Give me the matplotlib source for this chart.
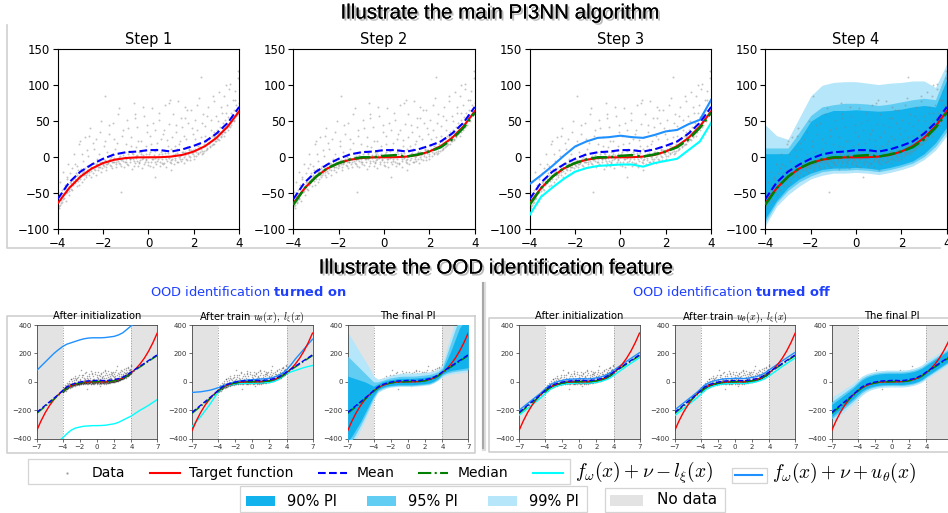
import numpy as np
import matplotlib
matplotlib.use('Agg')
import matplotlib.pyplot as plt
import matplotlib.patheffects as pe
from matplotlib.patches import Rectangle

# ---------------- data ----------------
# scatter "Data" (shared by all panels)
DATA_PTS = [
    (-3.95, -68), (-3.9, -52), (-3.85, -60), (-3.8, -45), (-3.75, -58), (-3.7, -38), (-3.65, -50), (-3.6, -30),
    (-3.55, -44), (-3.5, -40), (-3.45, -22), (-3.4, -36), (-3.35, -45), (-3.3, -28), (-3.25, -10), (-3.2, -32),
    (-3.15, -25), (-3.1, -18), (-3.05, -38), (-3.0, -27), (-2.95, 5), (-2.9, -20), (-2.85, -30), (-2.8, -15),
    (-2.75, -24), (-2.7, 10), (-2.65, -18), (-2.6, -12), (-2.55, -28), (-2.5, -15), (-2.45, 20), (-2.4, -8),
    (-2.35, -18), (-2.3, -12), (-2.25, -2), (-2.2, -14), (-2.15, 35), (-2.1, -20), (-2.05, -6), (-2.0, -10),
    (-1.95, 15), (-1.9, -4), (-1.85, -14), (-1.8, -8), (-1.75, 45), (-1.7, -2), (-1.65, -12), (-1.6, 5),
    (-1.55, -6), (-1.5, 25), (-1.45, -10), (-1.4, -3), (-1.35, 60), (-1.3, -8), (-1.25, 2), (-1.2, -12),
    (-1.15, 30), (-1.1, -5), (-1.05, 8), (-1.0, -2), (-0.95, -10), (-0.9, 40), (-0.85, 0), (-0.8, -6),
    (-0.75, 15), (-0.7, -3), (-0.65, -12), (-0.6, 55), (-0.55, 2), (-0.5, -5), (-0.45, 22), (-0.4, -8),
    (-0.35, 5), (-0.3, -2), (-0.25, 70), (-0.2, -10), (-0.15, 10), (-0.1, -4), (-0.05, 35), (0.0, 0),
    (0.05, -12), (0.1, 18), (0.15, -3), (0.2, 48), (0.25, 3), (0.3, -7), (0.35, 12), (0.4, -2),
    (0.45, 62), (0.5, -6), (0.55, 25), (0.6, 4), (0.65, -10), (0.7, 38), (0.75, 1), (0.8, -5),
    (0.85, 15), (0.9, -1), (0.95, 80), (1.0, -8), (1.05, 28), (1.1, 3), (1.15, -4), (1.2, 45),
    (1.25, 6), (1.3, -6), (1.35, 18), (1.4, 2), (1.45, 55), (1.5, -3), (1.55, 30), (1.6, 8),
    (1.65, -2), (1.7, 65), (1.75, 5), (1.8, 12), (1.85, -4), (1.9, 40), (1.95, 10), (2.0, 2),
    (2.05, 25), (2.1, 8), (2.15, 72), (2.2, 4), (2.25, 18), (2.3, 12), (2.35, 48), (2.4, 6),
    (2.45, 15), (2.5, 30), (2.55, 10), (2.6, 58), (2.65, 20), (2.7, 14), (2.75, 38), (2.8, 22),
    (2.85, 85), (2.9, 18), (2.95, 30), (3.0, 26), (3.05, 50), (3.1, 24), (3.15, 35), (3.2, 70),
    (3.25, 32), (3.3, 40), (3.35, 30), (3.4, 62), (3.45, 42), (3.5, 38), (3.55, 95), (3.6, 48),
    (3.65, 45), (3.7, 58), (3.75, 52), (3.8, 80), (3.85, 58), (3.9, 62), (3.95, 110), (4.0, 68),
    (-3.98, -62), (-3.92, -66), (-3.87, -55), (-3.82, -62), (-3.72, -50), (-3.62, -46), (-3.52, -47),
    (-3.42, -38), (-3.32, -33), (-3.22, -30), (-3.12, -28), (-3.02, -24), (-2.92, -22), (-2.82, -24),
    (-2.72, -17), (-2.62, -20), (-2.52, -13), (-2.42, -16), (-2.32, -10), (-2.22, -13), (-2.12, -7),
    (-2.02, -11), (-1.92, -5), (-1.82, -9), (-1.72, -4), (-1.62, -7), (-1.52, -1), (-1.42, -6),
    (-1.32, 1), (-1.22, -4), (-1.12, 3), (-1.02, -6), (-0.92, 4), (-0.82, -3), (-0.72, 6), (-0.62, -5),
    (-0.52, 3), (-0.42, -7), (-0.32, 8), (-0.22, -1), (-0.12, 5), (-0.02, -6), (0.08, 7), (0.18, -2),
    (0.28, 9), (0.38, -5), (0.48, 4), (0.58, -8), (0.68, 10), (0.78, -2), (0.88, 6), (0.98, -4),
    (1.08, 9), (1.18, -1), (1.28, 12), (1.38, -3), (1.48, 8), (1.58, 1), (1.68, 14), (1.78, 2),
    (1.88, 10), (1.98, 4), (2.08, 17), (2.18, 6), (2.28, 14), (2.38, 9), (2.48, 22), (2.58, 13),
    (2.68, 20), (2.78, 17), (2.88, 28), (2.98, 22), (3.08, 34), (3.18, 28), (3.28, 40), (3.38, 35),
    (3.48, 46), (3.58, 42), (3.68, 55), (3.78, 50), (3.88, 64), (3.98, 60),
    (-3.0, 22), (-2.6, 30), (-1.9, 85), (-1.2, -48), (0.3, -28), (1.0, -18), (2.3, 112), (3.4, 100),
    (-0.6, 60), (0.9, 75), (1.6, 70),
    (-3.97, -48), (-3.93, -70), (-3.89, -35), (-3.85, -64), (-3.81, -50), (-3.77, -20), (-3.73, -56),
    (-3.69, -42), (-3.65, -61), (-3.61, -28), (-3.57, -48), (-3.53, -10), (-3.49, -52), (-3.45, -34),
    (-3.41, -44), (-3.37, -15), (-3.33, -39), (-3.29, 5), (-3.25, -36), (-3.21, -22), (-3.17, -40),
    (-3.13, -12), (-3.09, -33), (-3.05, 18), (-3.01, -30), (-2.97, -16), (-2.93, -35), (-2.89, -5),
    (-2.85, -19), (-2.81, 28), (-2.77, -27), (-2.73, -12), (-2.69, -22), (-2.65, 2), (-2.61, -25),
    (-2.57, 40), (-2.53, -19), (-2.49, -8), (-2.45, -22), (-2.41, 12), (-2.37, -14), (-2.33, -24),
    (-2.29, 26), (-2.25, -9), (-2.21, -17), (-2.17, 4), (-2.13, -13), (-2.09, 50), (-2.05, -15),
    (-2.01, -3), (-1.97, -12), (-1.93, 22), (-1.89, -9), (-1.85, -18), (-1.81, 8), (-1.77, -6),
    (-1.73, 33), (-1.69, -11), (-1.65, 0), (-1.61, -15), (-1.57, 48), (-1.53, -7), (-1.49, 12),
    (-1.45, -3), (-1.41, -14), (-1.37, 20), (-1.33, -5), (-1.29, 68), (-1.25, -10), (-1.21, 6),
    (-1.17, -2), (-1.13, 38), (-1.09, -14), (-1.05, 1), (-1.01, 18), (-0.97, -6), (-0.93, 52),
    (-0.89, -11), (-0.85, 9), (-0.81, -3), (-0.77, 28), (-0.73, -16), (-0.69, 4), (-0.65, 75),
    (-0.61, -8), (-0.57, 14), (-0.53, -1), (-0.49, 42), (-0.45, -12), (-0.41, 7), (-0.37, -4),
    (-0.33, 22), (-0.29, -15), (-0.25, 3), (-0.21, 58), (-0.17, -7), (-0.13, 16), (-0.09, -2),
    (-0.05, 45), (-0.01, -11), (0.03, 5), (0.07, 30), (0.11, -6), (0.15, 68), (0.19, -14),
    (0.23, 10), (0.27, -1), (0.31, 38), (0.35, -9), (0.39, 20), (0.43, 2), (0.47, 52), (0.51, -12),
    (0.55, 8), (0.59, -3), (0.63, 33), (0.67, -8), (0.71, 72), (0.75, 6), (0.79, -13), (0.83, 24),
    (0.87, 0), (0.91, 46), (0.95, -7), (0.99, 12), (1.03, -2), (1.07, 60), (1.11, -10), (1.15, 16),
    (1.19, 4), (1.23, 35), (1.27, -7), (1.31, 78), (1.35, 1), (1.39, 22), (1.43, -5), (1.47, 42),
    (1.51, 8), (1.55, -8), (1.59, 55), (1.63, 3), (1.67, 26), (1.71, -4), (1.75, 48), (1.79, 10),
    (1.83, 0), (1.87, 66), (1.91, 6), (1.95, 32), (1.99, -3), (2.03, 52), (2.07, 12), (2.11, 2),
    (2.15, 38), (2.19, 16), (2.23, 82), (2.27, 8), (2.31, 28), (2.35, 5), (2.39, 60), (2.43, 18),
    (2.47, 9), (2.51, 44), (2.55, 22), (2.59, 12), (2.63, 70), (2.67, 25), (2.71, 15), (2.75, 52),
    (2.79, 30), (2.83, 18), (2.87, 78), (2.91, 35), (2.95, 22), (2.99, 58), (3.03, 38), (3.07, 26),
    (3.11, 90), (3.15, 42), (3.19, 30), (3.23, 62), (3.27, 48), (3.31, 35), (3.35, 85), (3.39, 52),
    (3.43, 40), (3.47, 72), (3.51, 56), (3.55, 44), (3.59, 102), (3.63, 62), (3.67, 50), (3.71, 80),
    (3.75, 66), (3.79, 56), (3.83, 92), (3.87, 72), (3.91, 60), (3.95, 120), (3.99, 76),
]

# top row (x from -4 to 4)
X_TOP = [-4, -3.5, -3, -2.5, -2, -1.5, -1, -0.5, 0, 0.5, 1, 1.5, 2, 2.5, 3, 3.5, 4]
TARGET_TOP = [-64, -43, -27, -15.6, -8, -3.4, -1, -0.1, 0, 0.1, 1, 3.4, 8, 15.6, 27, 43, 64]
MEAN_TOP = [-58, -35, -20, -10, -2, 4, 7, 8, 10, 10, 8, 11, 16, 22, 33, 48, 70]
MEDIAN_TOP = [-66, -43, -27, -15, -8, -3, 0, 0, 2, 3, 1, 4, 8, 14, 25, 41, 62]
UPPER_TOP = [-37, -25, -12, 2, 15, 22, 27, 28, 30, 28, 27, 31, 36, 38, 46, 52, 80]
LOWER_TOP = [-80, -55, -42, -30, -20, -15, -12, -11, -10, -10, -13, -8, -5, -2, 10, 22, 48]
P99_UP_TOP = [45, 30, 25, 55, 85, 100, 104, 105, 105, 103, 101, 103, 104, 106, 106, 97, 130]
P95_UP_TOP = [13, 13, 13, 35, 58, 70, 73, 75, 75, 74, 72, 74, 77, 80, 82, 80, 120]
P90_UP_TOP = [5, 5, 5, 25, 50, 60, 65, 65, 66, 65, 64, 65, 67, 70, 72, 70, 108]
P90_LO_TOP = [-85, -60, -42, -30, -22, -17, -15, -15, -14, -15, -17, -14, -10, -5, 5, 20, 42]
P95_LO_TOP = [-90, -63, -46, -34, -26, -20, -18, -18, -17, -18, -20, -17, -13, -8, 1, 15, 36]
P99_LO_TOP = [-95, -68, -52, -40, -30, -25, -22, -22, -21, -22, -24, -21, -17, -12, -3, 10, 30]

# bottom row (x from -7 to 7)
X_OOD = [-7, -6.5, -6, -5.5, -5, -4.5, -4, -3.5, -3, -2.5, -2, -1.5, -1, -0.5, 0,
         0.5, 1, 1.5, 2, 2.5, 3, 3.5, 4, 4.5, 5, 5.5, 6, 6.5, 7]
TARGET_OOD = [-343, -275, -216, -166, -125, -91, -64, -43, -27, -16, -8, -3, -1, 0, 0,
              0, 1, 3, 8, 16, 27, 43, 64, 91, 125, 166, 216, 275, 343]
MEAN_OOD = [-215, -190, -165, -140, -115, -90, -62, -36, -20, -10, -2, 4, 7, 8, 10,
            10, 8, 11, 16, 22, 33, 48, 70, 90, 110, 130, 150, 170, 190]
MEDIAN_OOD = [-222, -197, -172, -147, -122, -96, -68, -43, -27, -15, -8, -3, 0, 0, 2,
              3, 1, 4, 8, 14, 25, 41, 64, 85, 105, 125, 145, 165, 185]

UP_ON_INIT = [80, 110, 140, 170, 200, 225, 248, 265, 275, 285, 295, 303, 308, 310, 310,
              310, 312, 316, 320, 330, 345, 370, 395, 420, 445, 470, 495, 520, 545]
LO_ON_INIT = [-560, -530, -500, -475, -450, -420, -395, -365, -340, -325, -318, -312, -310, -308, -308,
              -307, -305, -300, -295, -285, -270, -255, -240, -220, -200, -183, -165, -145, -125]
UP_ON_TRAIN = [-75, -72, -70, -65, -60, -52, -42, -30, -18, -8, 0, 6, 10, 13, 15,
               17, 20, 22, 25, 32, 45, 60, 85, 120, 160, 195, 230, 265, 300]
LO_ON_TRAIN = [-315, -280, -245, -205, -165, -120, -75, -45, -30, -22, -15, -12, -11, -10, -10,
               -9, -8, -6, -5, 2, 15, 35, 58, 70, 80, 90, 100, 108, 115]

P99_UP_ON = [350, 300, 250, 200, 150, 100, 40, 20, 25, 35, 45, 52, 58, 62, 62,
             62, 64, 66, 68, 70, 78, 90, 120, 230, 330, 430, 500, 500, 500]
P95_UP_ON = [180, 150, 120, 90, 60, 30, 0, 0, 10, 20, 28, 33, 38, 40, 40,
             40, 42, 45, 48, 52, 60, 72, 100, 190, 280, 370, 450, 480, 480]
P90_UP_ON = [40, 30, 20, 10, 0, -15, -30, -15, 0, 10, 15, 20, 25, 25, 25,
             25, 28, 30, 33, 38, 45, 58, 85, 150, 220, 300, 380, 420, 450]
P90_LO_ON = [-420, -380, -330, -280, -220, -160, -100, -55, -40, -30, -25, -22, -20, -20, -20,
             -20, -18, -15, -12, -8, 5, 25, 55, 70, 80, 85, 90, 95, 100]
P95_LO_ON = [-450, -410, -360, -305, -245, -180, -115, -65, -48, -37, -31, -28, -26, -26, -26,
             -26, -24, -21, -18, -14, -2, 17, 45, 60, 68, 74, 78, 82, 85]
P99_LO_ON = [-480, -440, -390, -335, -270, -200, -130, -75, -58, -45, -38, -34, -32, -32, -32,
             -32, -30, -27, -24, -20, -8, 10, 35, 48, 55, 60, 63, 67, 70]

UP_OFF_INIT = [-200, -176, -152, -128, -104, -80, -52, -25, -8, 2, 10, 16, 19, 20, 22,
               22, 20, 23, 28, 34, 45, 60, 82, 103, 124, 145, 165, 185, 205]
LO_OFF_INIT = [-235, -211, -187, -163, -139, -114, -86, -58, -40, -28, -20, -14, -11, -10, -8,
               -8, -10, -7, -3, 3, 12, 25, 45, 67, 88, 110, 130, 150, 170]
UP_OFF_TRAIN = [-198, -174, -150, -126, -102, -78, -50, -22, -5, 5, 13, 19, 22, 23, 25,
                25, 23, 26, 31, 37, 48, 63, 85, 106, 127, 148, 168, 188, 208]
LO_OFF_TRAIN = [-238, -214, -190, -166, -142, -117, -89, -60, -42, -30, -22, -16, -13, -12, -10,
                -10, -12, -9, -5, 1, 10, 23, 43, 65, 86, 108, 128, 148, 168]

P99_UP_OFF = [-110, -90, -70, -50, -30, -10, 15, 40, 55, 65, 72, 78, 80, 82, 82,
              82, 82, 84, 88, 95, 105, 120, 145, 165, 185, 205, 225, 245, 265]
P95_UP_OFF = [-140, -118, -96, -74, -52, -30, -2, 25, 42, 52, 60, 65, 68, 70, 70,
              70, 70, 72, 76, 82, 92, 106, 128, 148, 168, 188, 208, 228, 248]
P90_UP_OFF = [-160, -137, -114, -91, -68, -44, -15, 12, 30, 42, 50, 55, 58, 60, 60,
              60, 60, 62, 66, 72, 82, 96, 117, 137, 157, 177, 197, 217, 237]
P90_LO_OFF = [-245, -220, -195, -170, -145, -120, -92, -65, -48, -36, -28, -23, -20, -19, -18,
              -18, -19, -17, -13, -7, 3, 18, 40, 60, 80, 100, 120, 140, 160]
P95_LO_OFF = [-260, -235, -210, -185, -160, -135, -106, -78, -58, -45, -36, -30, -27, -26, -25,
              -25, -26, -24, -20, -14, -4, 10, 32, 52, 72, 92, 112, 132, 152]
P99_LO_OFF = [-285, -258, -232, -206, -180, -154, -125, -95, -72, -58, -48, -42, -38, -37, -36,
              -36, -37, -35, -31, -25, -15, -1, 20, 40, 60, 80, 100, 120, 140]

C_TARGET = 'red'
C_MEAN = 'blue'
C_MEDIAN = 'green'
C_LOW = 'cyan'
C_UP = 'dodgerblue'
C_P90, C_P95, C_P99 = '#12b2ec', '#62cdf3', '#b5e6f9'
C_NODATA = '#e3e3e3'
C_HEAD = '#1f3fff'

data_x, data_y = np.array(DATA_PTS).T

W, H = 948, 513
fig = plt.figure(figsize=(W / 100, H / 100), dpi=100)


def px_axes(left, top, right, bottom, **kw):
    return fig.add_axes([left / W, 1 - bottom / H, (right - left) / W, (bottom - top) / H], **kw)


# background layer for frame lines
bg = fig.add_axes([0, 0, 1, 1], zorder=-1)
bg.set_xlim(0, W)
bg.set_ylim(H, 0)
bg.axis('off')
gray_line = dict(color='#cfcfcf', lw=1.2)
bg.plot([7, 7, 940], [25, 248, 248], **gray_line)
bg.plot([475, 7, 7, 475, 475], [316, 316, 453, 453, 316], **gray_line)
bg.plot([960, 489, 489, 960], [318, 318, 452, 452], **gray_line)
bg.plot([484.5, 484.5], [284, 449], color='#dddddd', lw=3)
bg.plot([483, 483], [283, 448], color='#a8a8a8', lw=1.5)

# ---------------- top row ----------------
top_lefts = [57.7, 293.3, 529.7, 765.3]
for i, lx in enumerate(top_lefts):
    ax = px_axes(lx, 49.3, lx + 181.5, 229.3)
    step = i + 1
    if step == 4:
        ax.fill_between(X_TOP, P99_LO_TOP, P99_UP_TOP, color=C_P99, lw=0)
        ax.fill_between(X_TOP, P95_LO_TOP, P95_UP_TOP, color=C_P95, lw=0)
        ax.fill_between(X_TOP, P90_LO_TOP, P90_UP_TOP, color=C_P90, lw=0)
    ax.scatter(data_x, data_y, s=2, color='gray', alpha=0.45, lw=0, zorder=2)
    if step == 3:
        ax.plot(X_TOP, UPPER_TOP, color=C_UP, lw=1.5, zorder=3)
        ax.plot(X_TOP, LOWER_TOP, color=C_LOW, lw=1.5, zorder=3)
    ax.plot(X_TOP, TARGET_TOP, color=C_TARGET, lw=1.5, zorder=4)
    if step >= 2:
        ax.plot(X_TOP, MEDIAN_TOP, color=C_MEDIAN, lw=1.8, ls='-.', zorder=5)
    ax.plot(X_TOP, MEAN_TOP, color=C_MEAN, lw=1.5, ls='--', zorder=6)
    ax.set_xlim(-4, 4)
    ax.set_ylim(-100, 150)
    ax.set_xticks([-4, -2, 0, 2, 4])
    ax.set_yticks([-100, -50, 0, 50, 100, 150])
    ax.tick_params(labelsize=8.5, length=3.5, width=0.8, pad=2)
    for sp in ax.spines.values():
        sp.set_linewidth(0.8)
    ax.set_title(f'Step {step}', fontsize=10.5, pad=4)

# ---------------- bottom row ----------------
ood_lefts = [36.7, 192, 347.7, 519, 674.7, 831.7]
titles = ['After initialization', r'After train $u_\theta(x),\ l_\xi(x)$', 'The final PI'] * 2
lines_up = [UP_ON_INIT, UP_ON_TRAIN, None, UP_OFF_INIT, UP_OFF_TRAIN, None]
lines_lo = [LO_ON_INIT, LO_ON_TRAIN, None, LO_OFF_INIT, LO_OFF_TRAIN, None]
bands = [None, None, (P90_LO_ON, P90_UP_ON, P95_LO_ON, P95_UP_ON, P99_LO_ON, P99_UP_ON),
         None, None, (P90_LO_OFF, P90_UP_OFF, P95_LO_OFF, P95_UP_OFF, P99_LO_OFF, P99_UP_OFF)]

for i, lx in enumerate(ood_lefts):
    ax = px_axes(lx, 325, lx + 120.5, 438.7)
    ax.axvspan(-7, -4, color=C_NODATA, lw=0, zorder=0)
    ax.axvspan(4, 7, color=C_NODATA, lw=0, zorder=0)
    ax.axvline(-4, color='#999999', ls=':', lw=0.7, zorder=1)
    ax.axvline(4, color='#999999', ls=':', lw=0.7, zorder=1)
    ax.scatter(data_x, data_y, s=1.2, color='black', alpha=0.35, lw=0, zorder=2)
    if bands[i] is not None:
        l90, u90, l95, u95, l99, u99 = bands[i]
        ax.fill_between(X_OOD, l99, u99, color=C_P99, lw=0, zorder=2.5)
        ax.fill_between(X_OOD, l95, u95, color=C_P95, lw=0, zorder=2.6)
        ax.fill_between(X_OOD, l90, u90, color=C_P90, lw=0, zorder=2.7)
    if lines_up[i] is not None:
        ax.plot(X_OOD, lines_up[i], color=C_UP, lw=1.0, zorder=3)
        ax.plot(X_OOD, lines_lo[i], color=C_LOW, lw=1.0, zorder=3)
    ax.plot(X_OOD, TARGET_OOD, color=C_TARGET, lw=1.0, zorder=4)
    ax.plot(X_OOD, MEDIAN_OOD, color=C_MEDIAN, lw=1.1, ls='-.', zorder=5)
    ax.plot(X_OOD, MEAN_OOD, color=C_MEAN, lw=1.0, ls='--', zorder=6)
    ax.set_xlim(-7, 7)
    ax.set_ylim(-400, 400)
    ax.set_xticks([-7, -4, -2, 0, 2, 4, 7])
    ax.set_yticks([-400, -200, 0, 200, 400])
    ax.tick_params(labelsize=5, length=2, width=0.5, pad=1.5, colors='#333333')
    for sp in ax.spines.values():
        sp.set_linewidth(0.6)
        sp.set_color('#444444')
    ax.set_title(titles[i], fontsize=7.2, pad=4, math_fontfamily='cm')

# ---------------- headings and legend (pixel overlay) ----------------
fg = fig.add_axes([0, 0, 1, 1], zorder=10)
fg.set_xlim(0, W)
fg.set_ylim(H, 0)
fg.axis('off')
fg.patch.set_alpha(0)

shadow = [pe.withSimplePatchShadow(offset=(1.5, -1.5), shadow_rgbFace='#777777', alpha=0.5), pe.Normal()]
fg.text(499, 13, 'Illustrate the main PI3NN algorithm', fontsize=14.8, family='Liberation Sans',
        ha='center', va='center', path_effects=shadow)
fg.text(495, 268, 'Illustrate the OOD identification feature', fontsize=14.8, family='Liberation Sans',
        ha='center', va='center', path_effects=shadow)
fg.text(248, 292, r'OOD identification $\mathbf{turned\ on}$', fontsize=9.4, color=C_HEAD,
        ha='center', va='center')
fg.text(732, 292, r'OOD identification $\mathbf{turned\ off}$', fontsize=9.4, color=C_HEAD,
        ha='center', va='center')

box = dict(facecolor='white', edgecolor='#d4d4d4', lw=0.9)
fg.add_patch(Rectangle((28, 459), 542, 25, **box))
fg.add_patch(Rectangle((732, 468), 35, 15, **box))
fg.add_patch(Rectangle((240, 486), 347, 26, **box))
fg.add_patch(Rectangle((605, 488), 120, 24, **box))

ly = 473
fg.plot([67], [ly], marker='.', ms=1.5, color='gray', alpha=0.6, ls='none')
fg.text(92, ly, 'Data', fontsize=10, va='center')
fg.plot([150, 180], [ly, ly], color=C_TARGET, lw=1.5)
fg.text(189, ly, 'Target function', fontsize=10, va='center')
fg.plot([318, 347], [ly, ly], color=C_MEAN, lw=1.5, ls='--')
fg.text(357, ly, 'Mean', fontsize=10, va='center')
fg.plot([418, 448], [ly, ly], color=C_MEDIAN, lw=1.5, ls='-.')
fg.text(458, ly, 'Median', fontsize=10, va='center')
fg.plot([533, 563], [ly, ly], color=C_LOW, lw=1.5)
fg.text(575, ly, r'$f_\omega(x)+\nu-l_\xi(x)$', fontsize=14, va='center', math_fontfamily='cm')
fg.plot([735, 762], [475, 475], color=C_UP, lw=1.5)
fg.text(772, ly, r'$f_\omega(x)+\nu+u_\theta(x)$', fontsize=14, va='center', math_fontfamily='cm')

py = 501
for x0, col, lab in [(246, C_P90, '90% PI'), (367, C_P95, '95% PI'), (488, C_P99, '99% PI')]:
    fg.add_patch(Rectangle((x0, 496), 29, 10, facecolor=col, lw=0))
    fg.text(x0 + 41, py, lab, fontsize=10.5, va='center')
fg.add_patch(Rectangle((610, 495), 33, 11, facecolor=C_NODATA, lw=0))
fg.text(657, 500, 'No data', fontsize=11, va='center')

fig.savefig('out.png', dpi=100)
